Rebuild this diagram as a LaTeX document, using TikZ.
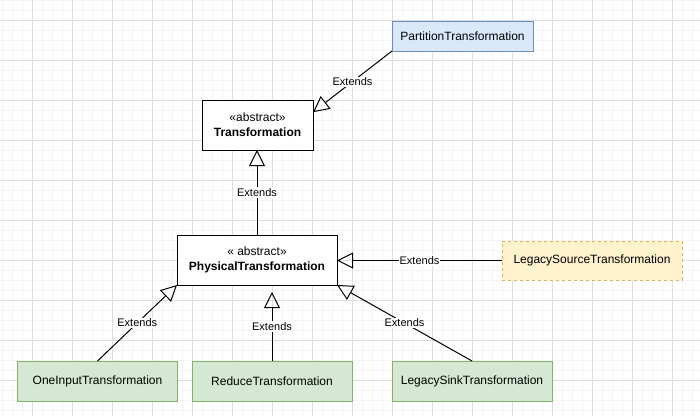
\documentclass[tikz,border=0pt]{standalone}
\usepackage{fontspec}
\setmainfont{Liberation Sans}
\usetikzlibrary{arrows.meta}
\definecolor{partfill}{HTML}{DAE8FC}
\definecolor{partline}{HTML}{6C8EBF}
\definecolor{srcfill}{HTML}{FFF2CC}
\definecolor{srcline}{HTML}{D6B656}
\definecolor{leaffill}{HTML}{D5E8D4}
\definecolor{leafline}{HTML}{82B366}
\definecolor{gridminor}{HTML}{F4F4F4}
\definecolor{gridmajor}{HTML}{DEDEDE}

\begin{document}
\begin{tikzpicture}[x=1pt,y=-1pt,
  cls/.style = {rectangle,draw=black,line width=1pt,fill=white,align=center,
                inner sep=0pt,outer sep=0pt,font=\fontsize{12}{15}\selectfont},
  leaf/.style = {cls,fill=leaffill,draw=leafline,minimum width=160pt,minimum height=40pt},
  extends/.style = {line width=1pt,-{Triangle[open,length=16pt,width=16pt,line width=1pt]}},
  lbl/.style = {fill=white,inner sep=1pt,font=\fontsize{11}{13}\selectfont}]
\useasboundingbox (0,0) rectangle (700,416);
\foreach \x in {2,12,...,692}
    \draw[gridminor,line width=1pt] (\x,0) -- (\x,416);
\foreach \y in {0,10,...,410}
    \draw[gridminor,line width=1pt] (0,\y) -- (700,\y);
\foreach \x in {32,72,...,672}
    \draw[gridmajor,line width=1pt] (\x,0) -- (\x,416);
\foreach \y in {20,60,...,400}
    \draw[gridmajor,line width=1pt] (0,\y) -- (700,\y);

\node[cls,fill=partfill,draw=partline,minimum width=141pt,minimum height=30pt] (part) at (462.5,36) {PartitionTransformation};
\node[cls,minimum width=111pt,minimum height=50pt] (trans) at (257.5,125) {«abstract»\\\textbf{Transformation}};
\node[cls,minimum width=160pt,minimum height=50pt] (phys) at (257,260) {« abstract»\\\textbf{PhysicalTransformation}};
\node[cls,fill=srcfill,draw=srcline,dash pattern=on 3pt off 3pt,minimum width=180pt,minimum height=39pt] (lsrc) at (592,260.5) {LegacySourceTransformation};
\node[leaf] (onein) at (97.5,381) {OneInputTransformation};
\node[leaf] (reduce) at (272,381) {ReduceTransformation};
\node[leaf] (lsink) at (472,381) {LegacySinkTransformation};

\draw[extends] (part.south west) -- node[lbl] {Extends} (trans.13);
\draw[extends] (phys.north) -- node[lbl] {Extends} (phys.north |- trans.south);
\draw[extends] (lsrc.west) -- node[lbl] {Extends} (lsrc.west -| phys.east);
\draw[extends] (onein.north) -- node[lbl] {Extends} (phys.south west);
\draw[extends] (reduce.north) -- node[lbl] {Extends} ([yshift=-7pt]reduce.north |- phys.south);
\draw[extends] (lsink.north) -- node[lbl] {Extends} (phys.south east);
\end{tikzpicture}
\end{document}
